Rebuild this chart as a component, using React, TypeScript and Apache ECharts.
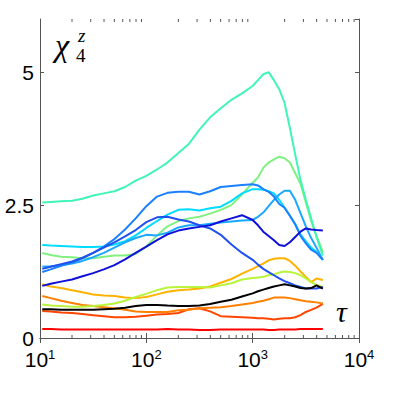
import React, { useEffect, useRef } from "react";
import * as echarts from "echarts";

// tau values (log-spaced samples)
const TAU = [10.5, 12.6, 15.8, 20.0, 25.1, 31.6, 39.8, 50.1, 63.1, 79.4, 100, 126, 158, 200, 251, 316, 398, 501, 631, 794, 1000, 1122, 1259, 1413, 1585, 1778, 1995, 2239, 2512, 2818, 3162, 3548, 3981, 4571];

const TEAL = [2.55, 2.56, 2.57, 2.58, 2.62, 2.68, 2.72, 2.76, 2.84, 2.96, 3.05, 3.17, 3.3, 3.48, 3.65, 3.92, 4.15, 4.32, 4.48, 4.6, 4.74, 4.85, 4.96, 5.0, 4.85, 4.68, 4.42, 3.95, 3.45, 2.97, 2.6, 2.25, 1.9, 1.55];
const GREEN = [1.6, 1.56, 1.53, 1.52, 1.5, 1.5, 1.53, 1.55, 1.55, 1.58, 1.72, 1.93, 2.1, 2.2, 2.25, 2.28, 2.34, 2.41, 2.5, 2.7, 2.92, 3.02, 3.2, 3.3, 3.36, 3.41, 3.38, 3.3, 3.1, 2.9, 2.55, 2.2, 1.92, 1.62];
const CYAN = [1.75, 1.74, 1.73, 1.72, 1.71, 1.71, 1.72, 1.76, 1.82, 1.93, 2.07, 2.2, 2.32, 2.41, 2.42, 2.4, 2.44, 2.47, 2.58, 2.72, 2.8, 2.8, 2.79, 2.76, 2.72, 2.6, 2.45, 2.3, 2.14, 1.95, 1.82, 1.7, 1.62, 1.47];
const BLUE_A = [1.24, 1.29, 1.36, 1.42, 1.5, 1.6, 1.72, 1.86, 2.04, 2.25, 2.48, 2.66, 2.73, 2.75, 2.75, 2.7, 2.76, 2.84, 2.86, 2.88, 2.89, 2.87, 2.8, 2.75, 2.66, 2.52, 2.45, 2.3, 2.14, 1.92, 1.78, 1.66, 1.6, 1.47];
const AZURE = [1.34, 1.35, 1.37, 1.4, 1.45, 1.52, 1.6, 1.7, 1.8, 1.88, 1.94, 1.93, 1.98, 2.08, 2.12, 2.12, 2.15, 2.17, 2.19, 2.21, 2.22, 2.28, 2.36, 2.48, 2.6, 2.7, 2.77, 2.77, 2.6, 2.35, 2.1, 1.88, 1.7, 1.47];
const MID_BLUE = [1.3, 1.34, 1.39, 1.44, 1.51, 1.6, 1.7, 1.8, 1.91, 2.03, 2.18, 2.27, 2.28, 2.23, 2.19, 2.12, 2.06, 1.94, 1.76, 1.6, 1.47, 1.38, 1.3, 1.24, 1.18, 1.12, 1.07, 1.03, 0.99, 0.96, 0.93, 0.93, 0.93, 0.96];
const DARK_BLUE = [0.98, 1.02, 1.06, 1.1, 1.16, 1.22, 1.29, 1.37, 1.48, 1.6, 1.72, 1.84, 1.95, 2.02, 2.06, 2.09, 2.12, 2.19, 2.25, 2.31, 2.22, 2.12, 2.0, 1.92, 1.84, 1.75, 1.73, 1.8, 1.9, 2.0, 2.06, 2.04, 2.03, 2.02];
const YELLOW_ORANGE = [1.01, 0.97, 0.94, 0.9, 0.86, 0.82, 0.8, 0.79, 0.76, 0.75, 0.77, 0.82, 0.87, 0.9, 0.91, 0.93, 0.97, 1.04, 1.11, 1.21, 1.3, 1.35, 1.4, 1.46, 1.49, 1.5, 1.5, 1.45, 1.36, 1.25, 1.15, 1.05, 1.12, 1.09];
const YELLOW_GREEN = [0.63, 0.61, 0.6, 0.59, 0.59, 0.6, 0.62, 0.65, 0.7, 0.77, 0.83, 0.9, 0.95, 0.96, 0.96, 0.96, 0.95, 0.99, 1.03, 1.1, 1.13, 1.14, 1.15, 1.18, 1.2, 1.23, 1.25, 1.24, 1.22, 1.18, 1.12, 1.05, 1.0, 0.96];
const BLACK = [0.54, 0.54, 0.53, 0.53, 0.53, 0.53, 0.54, 0.55, 0.57, 0.6, 0.62, 0.62, 0.61, 0.6, 0.6, 0.61, 0.64, 0.68, 0.72, 0.78, 0.84, 0.88, 0.91, 0.94, 0.97, 0.99, 1.01, 0.99, 0.97, 0.94, 0.93, 0.94, 0.99, 0.93];
const ORANGE = [0.79, 0.75, 0.7, 0.66, 0.62, 0.6, 0.58, 0.56, 0.53, 0.5, 0.49, 0.49, 0.49, 0.52, 0.53, 0.56, 0.57, 0.58, 0.6, 0.63, 0.66, 0.68, 0.7, 0.73, 0.76, 0.76, 0.76, 0.75, 0.73, 0.71, 0.69, 0.68, 0.67, 0.65];
const RED_ORANGE = [0.51, 0.5, 0.48, 0.47, 0.45, 0.43, 0.41, 0.39, 0.39, 0.4, 0.42, 0.44, 0.45, 0.47, 0.54, 0.56, 0.5, 0.41, 0.4, 0.39, 0.38, 0.37, 0.37, 0.36, 0.35, 0.36, 0.37, 0.37, 0.39, 0.43, 0.49, 0.53, 0.57, 0.64];
const RED = [0.17, 0.17, 0.16, 0.16, 0.16, 0.16, 0.16, 0.16, 0.16, 0.16, 0.16, 0.16, 0.17, 0.16, 0.16, 0.15, 0.15, 0.16, 0.16, 0.16, 0.16, 0.16, 0.16, 0.15, 0.15, 0.16, 0.16, 0.16, 0.16, 0.17, 0.17, 0.17, 0.17, 0.17];

const SERIES = [
  { name: "red", color: "#ff0000", values: RED },
  { name: "redOrange", color: "#ff4500", values: RED_ORANGE },
  { name: "orange", color: "#ff8000", values: ORANGE },
  { name: "yellowOrange", color: "#ffb300", values: YELLOW_ORANGE },
  { name: "yellowGreen", color: "#b8f53a", values: YELLOW_GREEN },
  { name: "green", color: "#80f080", values: GREEN },
  { name: "teal", color: "#40f5b5", values: TEAL },
  { name: "cyan", color: "#00dcff", values: CYAN },
  { name: "azure", color: "#1aa8ff", values: AZURE },
  { name: "blueA", color: "#1a80ff", values: BLUE_A },
  { name: "midBlue", color: "#2050f0", values: MID_BLUE },
  { name: "darkBlue", color: "#1010d8", values: DARK_BLUE },
  { name: "black", color: "#000000", values: BLACK },
];

const X_MIN = 10;
const X_MAX = 10000;
const Y_MIN = 0;
const Y_MAX = 6;
const Y_INTERVAL = 2.5;
const MINOR_TICKS = [20, 30, 40, 50, 60, 70, 80, 90, 200, 300, 400, 500, 600, 700, 800, 900, 2000, 3000, 4000, 5000, 6000, 7000, 8000, 9000];

const AXIS_COLOR = "#555555";
const SANS = "Liberation Sans";

export default function App() {
  const ref = useRef<HTMLDivElement>(null);
  useEffect(() => {
    if (!ref.current) return;
    const chart = echarts.init(ref.current, undefined, { renderer: "svg" });
    const xBase = {
      type: "log" as const,
      logBase: 10,
      min: X_MIN,
      max: X_MAX,
      axisLine: { show: true, lineStyle: { color: AXIS_COLOR, width: 1 } },
      axisTick: { show: true, inside: true, length: 5, lineStyle: { color: AXIS_COLOR } },
      splitLine: { show: false },
      minorTick: { show: false },
    };
    const yBase = {
      type: "value" as const,
      min: Y_MIN,
      max: Y_MAX,
      interval: Y_INTERVAL,
      axisLine: { show: true, lineStyle: { color: AXIS_COLOR, width: 1 } },
      axisTick: { show: true, inside: true, length: 4, lineStyle: { color: AXIS_COLOR } },
      splitLine: { show: false },
    };
    const txt = (text: string, x: number, y: number, size: number, italic: boolean) => ({
      type: "text",
      x,
      y,
      style: {
        text,
        font: `${italic ? "italic " : ""}${size}px serif`,
        fill: "#000",
        verticalAlign: "bottom",
      },
    });
    const option: any = {
      animation: false,
      backgroundColor: "#ffffff",
      grid: { left: 40, right: 40, top: 19, bottom: 61, containLabel: false },
      xAxis: [
        {
          ...xBase,
          position: "bottom",
          axisLabel: {
            show: true,
            margin: 10,
            formatter: (v: number) => `{b|10}{s|${Math.round(Math.log10(v))}}`,
            rich: {
              b: { fontSize: 21, fontFamily: SANS, color: "#000", lineHeight: 22, padding: [6, 0, 0, 0], verticalAlign: "bottom" },
              s: { fontSize: 13, fontFamily: SANS, color: "#000", lineHeight: 14, verticalAlign: "top" },
            },
          },
        },
        { ...xBase, position: "top", axisLabel: { show: false } },
      ],
      yAxis: [
        {
          ...yBase,
          position: "left",
          axisLabel: {
            show: true,
            margin: 6,
            showMaxLabel: false,
            fontSize: 21,
            lineHeight: 16,
            fontFamily: SANS,
            color: "#000",
          },
        },
        { ...yBase, position: "right", axisLabel: { show: false } },
      ],
      series: [
        ...SERIES.map((s) => ({
          type: "line",
          name: s.name,
          xAxisIndex: 0,
          yAxisIndex: 0,
          data: TAU.map((t, i) => [t, s.values[i]]),
          showSymbol: false,
          symbol: "none",
          lineStyle: { color: s.color, width: 2 },
          itemStyle: { color: s.color },
          silent: true,
        })),
        {
          type: "custom",
          name: "minorTicks",
          xAxisIndex: 0,
          yAxisIndex: 0,
          silent: true,
          clip: false,
          data: MINOR_TICKS.map((t) => [t, Y_MIN]),
          renderItem: (_params: any, api: any) => {
            const tau = api.value(0);
            const b = api.coord([tau, Y_MIN]);
            const t = api.coord([tau, Y_MAX]);
            return {
              type: "group",
              children: [
                { type: "line", shape: { x1: b[0], y1: b[1], x2: b[0], y2: b[1] - 3 }, style: { stroke: AXIS_COLOR, lineWidth: 1 } },
                { type: "line", shape: { x1: t[0], y1: t[1], x2: t[0], y2: t[1] + 3 }, style: { stroke: AXIS_COLOR, lineWidth: 1 } },
              ],
            };
          },
        },
      ],
      graphic: [
        txt("χ", 55, 61, 32, true),
        txt("z", 78, 45, 19, true),
        txt("4", 76, 65, 19, false),
        txt("τ", 336, 326, 30, true),
      ],
    };
    chart.setOption(option);
    return () => chart.dispose();
  }, []);
  return (
    <div
      ref={ref}
      style={{ position: "fixed", left: 0, top: 0, width: 399, height: 399, background: "#fff" }}
    />
  );
}
